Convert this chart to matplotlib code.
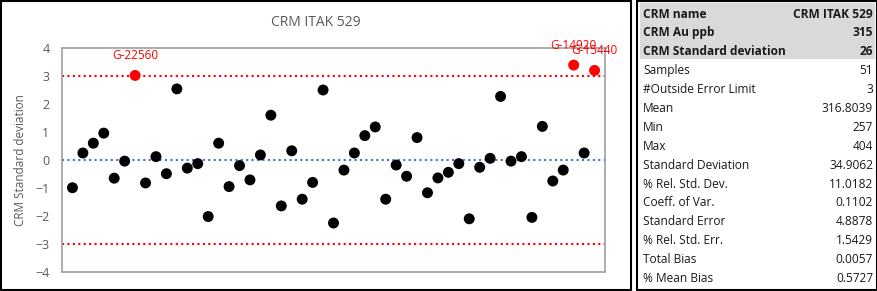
import matplotlib.pyplot as plt
from matplotlib.patches import Rectangle

# z-scores of each CRM sample (in CRM standard deviations)
z_scores = [-0.99, 0.25, 0.60, 0.96, -0.65, -0.04, 3.02, -0.82, 0.12, -0.49,
            2.54, -0.29, -0.13, -2.02, 0.60, -0.95, -0.20, -0.71, 0.18, 1.60,
            -1.64, 0.33, -1.40, -0.80, 2.50, -2.25, -0.36, 0.25, 0.87, 1.18,
            -1.40, -0.18, -0.58, 0.80, -1.17, -0.64, -0.44, -0.13, -2.10, -0.26,
            0.06, 2.27, -0.04, 0.12, -2.05, 1.20, -0.75, -0.36, 3.39, 0.25,
            3.20]
outlier_idx = [7, 49, 51]
outlier_names = ['G-22560', 'G-14920', 'G-15440']
limit = 3

stat_names = ['CRM name', 'CRM Au ppb', 'CRM Standard deviation', 'Samples',
              '#Outside Error Limit', 'Mean', 'Min', 'Max', 'Standard Deviation',
              '% Rel. Std. Dev.', 'Coeff. of Var.', 'Standard Error',
              '% Rel. Std. Err.', 'Total Bias', '% Mean Bias']
stat_values = ['CRM ITAK 529', '315', '26', '51', '3', '316.8039', '257', '404',
               '34.9062', '11.0182', '0.1102', '4.8878', '1.5429', '0.0057',
               '0.5727']

W, H = 878, 291
grey = '#595959'
plt.rcParams['font.family'] = ['Open Sans', 'DejaVu Sans']

fig = plt.figure(figsize=(W / 100, H / 100), dpi=100)

def fx(px):
    return px / W

def fy(py):
    return 1 - py / H

# chart frame
fig.patches.append(Rectangle((fx(1), fy(290)), fx(630), 289 / H, transform=fig.transFigure,
                             fill=False, edgecolor='black', linewidth=1.5))
ax = fig.add_axes([fx(62), fy(272), fx(605 - 62), (272 - 48) / H])

x = list(range(1, len(z_scores) + 1))
colors = ['red' if abs(v) > limit else 'black' for v in z_scores]
ax.axhline(limit, color='red', linestyle=(0, (1, 1.6)), linewidth=1.5, zorder=1)
ax.axhline(-limit, color='red', linestyle=(0, (1, 1.6)), linewidth=1.5, zorder=1)
ax.axhline(0, color='#4472c4', linestyle=(0, (1, 1.6)), linewidth=1.5, zorder=1)
ax.scatter(x, z_scores, s=62, c=colors, zorder=3, linewidths=0)

for i, name in zip(outlier_idx, outlier_names):
    ax.annotate(name, (i, z_scores[i - 1]), xytext=(0, 14), textcoords='offset points',
                ha='center', va='center', color='red', fontsize=8.5, annotation_clip=False)

ax.set_xlim(0, 52)
ax.set_ylim(-4, 4)
ax.set_xticks([])
ax.set_yticks(range(-4, 5))
ax.tick_params(axis='y', length=0, pad=9, labelsize=9, labelcolor=grey)
for s in ax.spines.values():
    s.set_color('#a0a0a0')
    s.set_linewidth(1.2)
ax.set_ylabel('CRM Standard deviation', color=grey, fontsize=8.5, labelpad=6)
fig.text(fx(316), fy(22), 'CRM ITAK 529', ha='center', va='center', color=grey, fontsize=10)

# stats table
fig.patches.append(Rectangle((fx(637), fy(290)), fx(240), 289 / H, transform=fig.transFigure,
                             fill=False, edgecolor='black', linewidth=1.5))
fig.patches.append(Rectangle((fx(640), fy(59)), fx(235), 56 / H, transform=fig.transFigure,
                             facecolor='#d9d9d9', edgecolor='none'))
row_h = 18.9
for k, (n, v) in enumerate(zip(stat_names, stat_values)):
    yy = fy(14 + k * row_h)
    w = 'bold' if k < 3 else 'normal'
    fig.text(fx(643), yy, n, ha='left', va='center', fontsize=8.6, weight=w, color='#1a1a1a')
    fig.text(fx(873), yy, v, ha='right', va='center', fontsize=8.6, weight=w, color='#1a1a1a')

fig.savefig('out.png', dpi=100)
